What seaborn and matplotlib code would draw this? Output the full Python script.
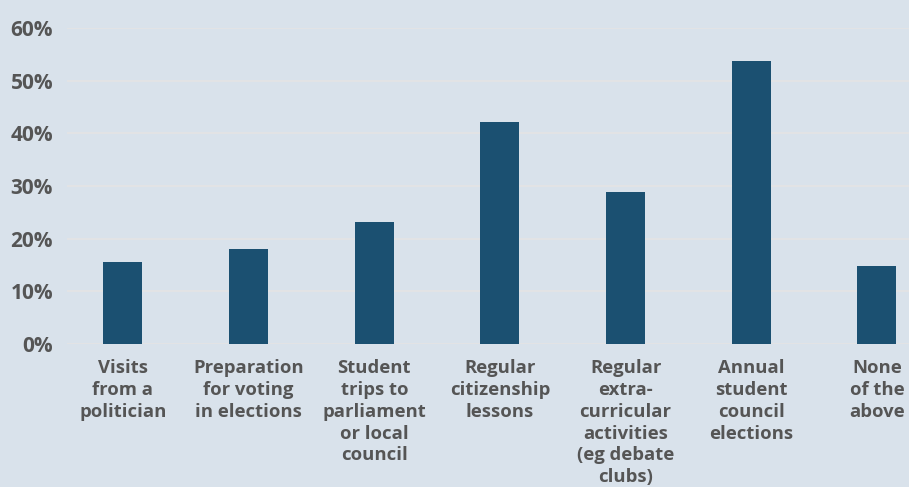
import matplotlib
matplotlib.use("Agg")
import matplotlib.pyplot as plt
import seaborn as sns
import pandas as pd

categories = [
    "Visits\nfrom a\npolitician",
    "Preparation\nfor voting\nin elections",
    "Student\ntrips to\nparliament\nor local\ncouncil",
    "Regular\ncitizenship\nlessons",
    "Regular\nextra-\ncurricular\nactivities\n(eg debate\nclubs)",
    "Annual\nstudent\ncouncil\nelections",
    "None\nof the\nabove",
]
values = [15.6, 18.0, 23.1, 42.1, 28.8, 53.7, 14.8]
y_ticks = [0, 10, 20, 30, 40, 50, 60]

bg = "#d9e2eb"
bar_color = "#1b5071"
text_color = "#555555"

sns.set_theme(style="white")
plt.rcParams["font.family"] = ["Open Sans", "DejaVu Sans"]

df = pd.DataFrame({"activity": categories, "share": values})

fig = plt.figure(figsize=(9.09, 4.87), dpi=100, facecolor=bg)
ax = fig.add_axes([67 / 909, 1 - 344 / 487, 1 - 67 / 909, (344 - 28) / 487])
ax.set_facecolor(bg)

sns.barplot(data=df, x="activity", y="share", color=bar_color, width=0.31,
            saturation=1, linewidth=0, ax=ax, zorder=3)

ax.set_ylim(0, 60)
ax.set_xlim(-0.445, 6.255)
ax.set_yticks(y_ticks)
ax.set_yticklabels([f"{t}%" for t in y_ticks], fontsize=15, fontweight="bold",
                   color=text_color)
ax.yaxis.grid(True, color="#e4e4e4", linewidth=1.2, zorder=0)
ax.xaxis.grid(False)
ax.tick_params(axis="y", length=0, pad=10)
ax.tick_params(axis="x", length=0, pad=11)
for lbl in ax.get_xticklabels():
    lbl.set_fontsize(13.3)
    lbl.set_fontweight("bold")
    lbl.set_color(text_color)
    lbl.set_linespacing(1.27)
    lbl.set_clip_on(False)
ax.set_xlabel("")
ax.set_ylabel("")
for s in ax.spines.values():
    s.set_visible(False)

fig.savefig("out.png", dpi=100, facecolor=bg)
